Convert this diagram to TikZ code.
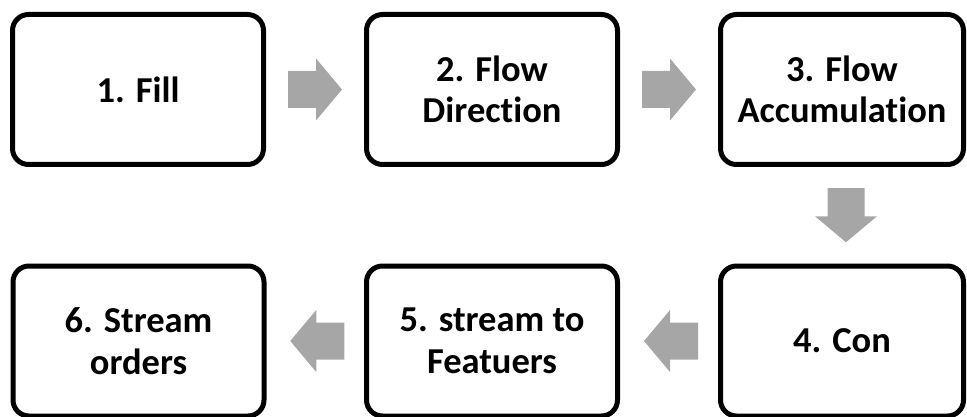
\documentclass[tikz,border=0pt]{standalone}
\usepackage{fontspec}
\setmainfont{Carlito}[Ligatures={NoCommon}]
\usetikzlibrary{calc}
\definecolor{arrowgray}{RGB}{166,166,166}
\tikzset{
  stepbox/.style={draw=black, line width=5pt, rounded corners=16pt, fill=white,
    minimum width=251pt, minimum height=150pt, inner sep=0pt, align=center,
    font=\fontsize{36.5}{41.5}\selectfont\bfseries},
  bigarrow/.pic={\fill[arrowgray] (-27pt,-18.5pt) -- (1pt,-18.5pt) -- (1pt,-31pt) -- (27pt,0pt) -- (1pt,31pt) -- (1pt,18.5pt) -- (-27pt,18.5pt) -- cycle;}
}
\begin{document}
\begin{tikzpicture}[x=1pt,y=1pt]
\useasboundingbox (0,0) rectangle (967,-417);
\node[stepbox] (b1) at (138,-89.5) {1. Fill};
\node[stepbox] (b2) at (492,-89.5) {2. Flow\\Direction};
\node[stepbox, minimum width=243pt] (b3) at (842,-89.5) {3. Flow\\Accumulation};
\node[stepbox, minimum width=243pt] (b4) at (842,-341) {4. Con};
\node[stepbox] (b5) at (492,-341) {5. stream to\\Featuers};
\node[stepbox] (b6) at (138.5,-341) {6. Stream\\orders};
\pic at ($(b1.east)!0.5!(b2.west)$) {bigarrow};
\pic at ($(b2.east)!0.5!(b3.west)$) {bigarrow};
\pic[rotate=-90] at ($(b3.south)!0.5!(b4.north)+(4,0)$) {bigarrow};
\pic[rotate=180] at ($(b4.west)!0.5!(b5.east)+(2,0)$) {bigarrow};
\pic[rotate=180] at ($(b5.west)!0.5!(b6.east)+(2,0)$) {bigarrow};
\end{tikzpicture}
\end{document}
